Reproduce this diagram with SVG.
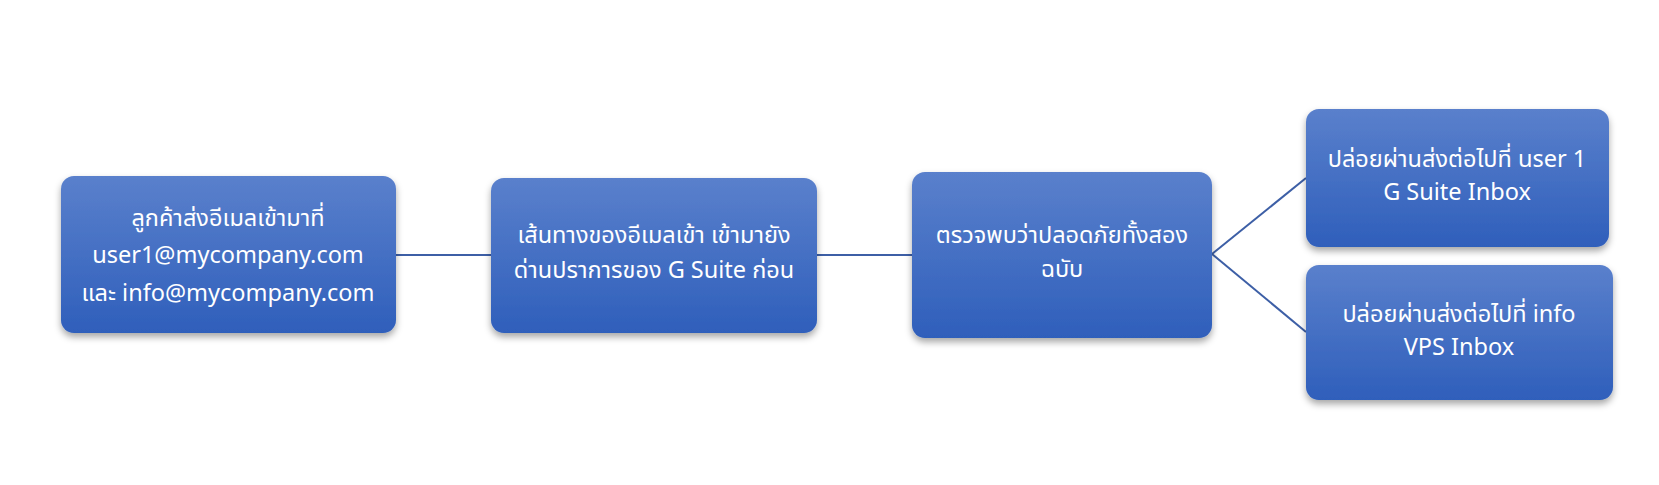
<svg xmlns="http://www.w3.org/2000/svg" width="1659" height="485" viewBox="0 0 1659 485">
<defs>
<linearGradient id="g" x1="0" y1="0" x2="0" y2="1">
<stop offset="0" stop-color="#5a80cc"/>
<stop offset="1" stop-color="#2f5fbb"/>
</linearGradient>
<filter id="sh" x="-10%" y="-10%" width="120%" height="130%">
<feDropShadow dx="0" dy="4" stdDeviation="3.5" flood-color="#000" flood-opacity="0.35"/>
</filter>
</defs>
<style>
.box{fill:url(#g);filter:url(#sh);}
.t{font-family:"Noto Sans Thai","Noto Sans","DejaVu Sans",sans-serif;font-size:23.5px;fill:#fff;text-anchor:middle;dominant-baseline:central;}
.c{stroke:#3d5fa6;stroke-width:2;fill:none;}
</style>
<rect width="1659" height="485" fill="#fff"/>
<g id="connectors">
<line class="c" x1="396" y1="255" x2="491" y2="255"/>
<line class="c" x1="817" y1="255" x2="912" y2="255"/>
<line class="c" x1="1212" y1="254" x2="1306" y2="178"/>
<line class="c" x1="1212" y1="254" x2="1306" y2="332"/>
</g>
<g id="n1">
<rect class="box" x="61" y="176" width="335" height="157" rx="13"/>
<text class="t" x="228" y="219">ลูกค้าส่งอีเมลเข้ามาที่</text>
<text class="t" x="228" y="256">user1@mycompany.com</text>
<text class="t" x="228" y="294">และ info@mycompany.com</text>
</g>
<g id="n2">
<rect class="box" x="491" y="178" width="326" height="155" rx="13"/>
<text class="t" x="654" y="236">เส้นทางของอีเมลเข้า เข้ามายัง</text>
<text class="t" x="654" y="271">ด่านปราการของ G Suite ก่อน</text>
</g>
<g id="n3">
<rect class="box" x="912" y="172" width="300" height="166" rx="13"/>
<text class="t" x="1062" y="236">ตรวจพบว่าปลอดภัยทั้งสอง</text>
<text class="t" x="1062" y="270">ฉบับ</text>
</g>
<g id="n4">
<rect class="box" x="1306" y="109" width="303" height="138" rx="13"/>
<text class="t" x="1457" y="160">ปล่อยผ่านส่งต่อไปที่ user 1</text>
<text class="t" x="1457" y="193">G Suite Inbox</text>
</g>
<g id="n5">
<rect class="box" x="1306" y="265" width="307" height="135" rx="13"/>
<text class="t" x="1459" y="315">ปล่อยผ่านส่งต่อไปที่ info</text>
<text class="t" x="1459" y="348">VPS Inbox</text>
</g>
</svg>
